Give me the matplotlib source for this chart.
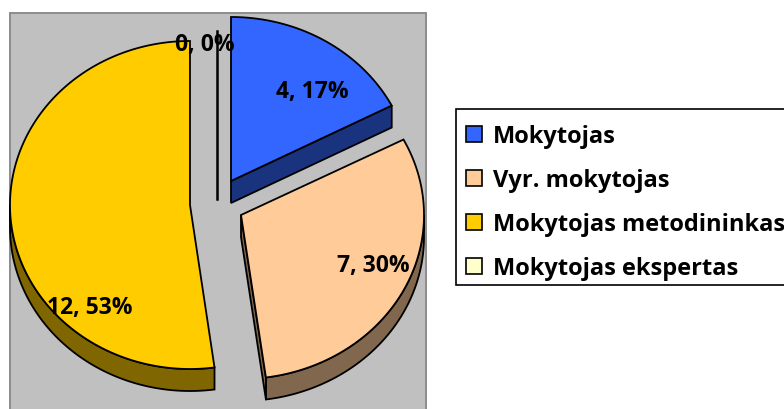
import numpy as np
import matplotlib
matplotlib.use("Agg")
import matplotlib.pyplot as plt
from matplotlib.patches import Polygon, Patch, Rectangle

categories = ["Mokytojas", "Vyr. mokytojas", "Mokytojas metodininkas", "Mokytojas ekspertas"]
values = [4, 7, 12, 0]
percents = [17, 30, 53, 0]

top_colors = ["#3366FF", "#FFCC99", "#FFCC00", "#FFFFCC"]
side_colors = ["#1A337F", "#80674D", "#806600", "#80806A"]
centers = [(231, 182), (241, 216), (190, 206), (217, 200)]
radii_x = [181, 183, 180, 181]
label_pos = [(312, 92), (373, 266), (90, 308), (205, 45)]
RY, DEPTH = 164, 22
FONT = "Open Sans"

W, H = 784, 410
fig = plt.figure(figsize=(W / 100, H / 100), dpi=100, facecolor="white")
ax = fig.add_axes([0, 0, 1, 1])
ax.set_xlim(0, W)
ax.set_ylim(H, 0)
ax.axis("off")

ax.add_patch(Rectangle((10.5, 13.5), 416, 400, facecolor="#C0C0C0", edgecolor="#8C8C8C", lw=1.4, zorder=0))


def rim(c, rx, a0, a1, dy=0):
    t = np.radians(np.linspace(a0, a1, max(int(abs(a1 - a0)) * 2, 2)))
    return np.column_stack([c[0] + rx * np.sin(t), c[1] - RY * np.cos(t) + dy])


edges = np.cumsum([0] + values) / sum(values) * 360
for i, (c, rx, a0, a1) in enumerate(zip(centers, radii_x, edges[:-1], edges[1:])):
    if values[i] == 0:
        tip = rim(c, rx, a0, a0 + 0.001)[0]
        ax.plot([c[0], tip[0]], [c[1], tip[1] - 4], color="black", lw=1.8, zorder=3)
        continue
    lo, hi = max(a0, 90), min(a1, 270)
    if hi > lo:
        arc = rim(c, rx, lo, hi)
        ax.add_patch(Polygon(np.vstack([arc, rim(c, rx, hi, lo, DEPTH)]), closed=True,
                             facecolor=side_colors[i], edgecolor="black", lw=1.3, zorder=2))
    if i < 2:
        e = rim(c, rx, a1, a1 + 0.001)[0]
        quad = [c, e, (e[0], e[1] + DEPTH), (c[0], c[1] + DEPTH)]
        ax.add_patch(Polygon(quad, closed=True, facecolor=side_colors[i],
                             edgecolor="black", lw=1.3, zorder=2))
    ax.add_patch(Polygon(np.vstack([[c], rim(c, rx, a0, a1)]), closed=True,
                         facecolor=top_colors[i], edgecolor="black", lw=1.3, zorder=3))

for v, p, (x, y) in zip(values, percents, label_pos):
    ax.text(x, y, f"{v}, {p}%", ha="center", va="center", fontsize=16.5,
            fontweight="bold", family=FONT, color="black", zorder=5)

# legend box runs past the right edge of the figure, as in the reference
ax.add_patch(Rectangle((456.5, 109.5), 400, 176.5, facecolor="white", edgecolor="black", lw=1.2, zorder=4))

handles = [Patch(facecolor=col, edgecolor="black", lw=1.2) for col in top_colors]
leg = ax.legend(handles, categories, loc="upper left",
                bbox_to_anchor=(456 / W, 1 - 115 / H), borderaxespad=0,
                prop={"family": FONT, "weight": "bold", "size": 17},
                frameon=False,
                handlelength=0.68, handleheight=0.68, handletextpad=0.47,
                labelspacing=0.85, borderpad=0.42)
leg.set_zorder(6)

fig.savefig("out.png", dpi=100, facecolor="white")
